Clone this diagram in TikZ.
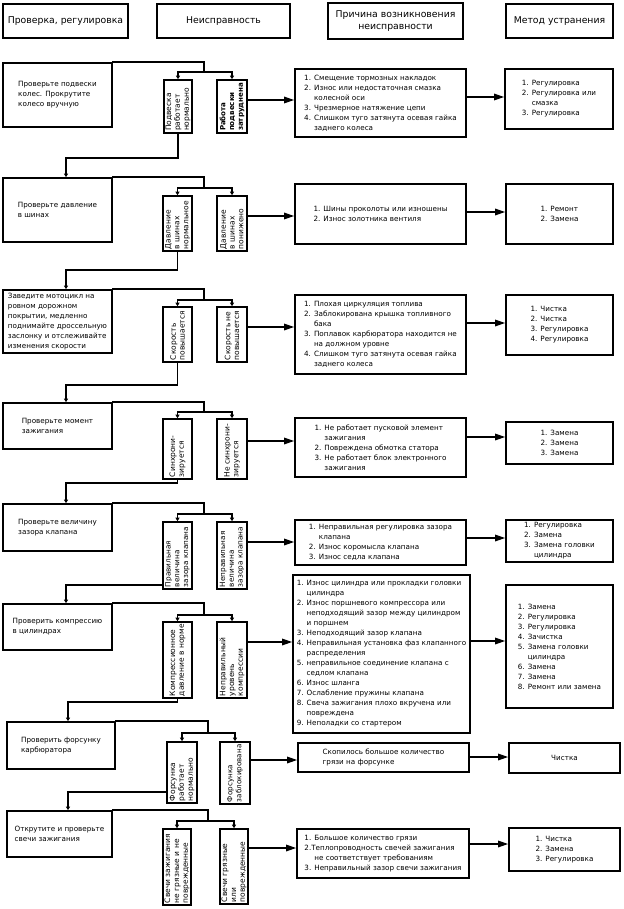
\documentclass[tikz,border=0pt]{standalone}
\usepackage{fontspec}
\setmainfont{DejaVu Sans}
\usepackage{graphicx}
\usetikzlibrary{arrows.meta}
\newcommand{\hg}{\phantom{0. }}
\newcommand{\sfs}[1]{\fontsize{#1}{8.8}\selectfont}
\newcommand{\bx}[7]{\node[#1, minimum width={#4-#2}, minimum height={#5-#3}] (#6) at ({(#2+#4)/2},{(#3+#5)/2}) {#7};}
\newcommand{\sbx}[6]{\pgfmathsetlengthmacro{\tw}{#4-#2-4}\node[sbox, minimum width={#3-#1}, minimum height={#4-#2}] (#5) at ({(#1+#3)/2},{(#2+#4)/2}) {\rotatebox{90}{\parbox{\tw}{#6}}};}
\tikzset{
 box/.style={draw, line width=1.7pt, align=left, inner sep=1pt, font=\fontsize{7.2}{10}\selectfont},
 hdr/.style={draw, line width=1.7pt, align=center, inner sep=1pt, font=\fontsize{9.3}{12.5}\selectfont},
 sbox/.style={draw, line width=1.6pt, inner sep=0pt, font=\fontsize{7.5}{8.8}\selectfont},
 conn/.style={line width=1.5pt, line cap=rect},
 arr/.style={line width=1.5pt, -{Triangle[length=10pt,width=6.5pt]}},
 sarr/.style={line width=1.5pt, -{Triangle[length=3.5pt,width=4pt]}},
}
\begin{document}
\begin{tikzpicture}[x=1pt,y=-1pt]
\useasboundingbox (0,0) rectangle (623,909);
% headers
\bx{hdr}{3}{4}{128}{38}{H1}{Проверка, регулировка}
\bx{hdr}{157}{4}{290}{38}{H2}{Неисправность}
\bx{hdr}{328}{3}{463}{39}{H3}{Причина возникновения\\неисправности}
\bx{hdr}{506}{4}{613}{38}{H4}{Метод устранения}
% row 1
\bx{box}{3}{63}{112}{127}{L1}{Проверьте подвески\\колес. Прокрутите\\колесо вручную}
\sbx{164}{80}{192}{133}{A1}{\mbox{Подвеска}\\\mbox{работает}\\\mbox{нормально}}
\sbx{217}{80}{247}{133}{B1}{\sfs{7.1}\bfseries\mbox{Работа}\\\mbox{подвески}\\\mbox{затруднена}}
\bx{box}{295}{69}{466}{137}{C1}{1. Смещение тормозных накладок\\2. Износ или недостаточная смазка\\\hg колесной оси\\3. Чрезмерное натяжение цепи\\4. Слишком туго затянута осевая гайка\\\hg заднего колеса}
\bx{box}{505}{69}{613}{129}{M1}{1. Регулировка\\2. Регулировка или\\\hg смазка\\3. Регулировка}
% row 2
\bx{box}{3}{178}{112}{242}{L2}{Проверьте давление\\в шинах}
\sbx{163}{196}{192}{251}{A2}{\mbox{Давление}\\\mbox{в шинах}\\\mbox{нормальное}}
\sbx{217}{196}{247}{251}{B2}{\mbox{Давление}\\\mbox{в шинах}\\\mbox{понижено}}
\bx{box}{295}{184}{466}{244}{C2}{1. Шины проколоты или изношены\\2. Износ золотника вентиля}
\bx{box}{506}{184}{613}{244}{M2}{1. Ремонт\\2. Замена}
% row 3
\bx{box}{3}{290}{112}{353}{L3}{Заведите мотоцикл на\\ровном дорожном\\покрытии, медленно\\поднимайте дроссельную\\заслонку и отслеживайте\\изменения скорости}
\sbx{163}{307}{192}{362}{A3}{\mbox{Скорость}\\\mbox{повышается}}
\sbx{217}{307}{247}{362}{B3}{\mbox{Скорость не}\\\mbox{повышается}}
\bx{box}{295}{295}{466}{374}{C3}{1. Плохая циркуляция топлива\\2. Заблокирована крышка топливного\\\hg бака\\3. Поплавок карбюратора находится не\\\hg на должном уровне\\4. Слишком туго затянута осевая гайка\\\hg заднего колеса}
\bx{box}{506}{295}{613}{355}{M3}{1. Чистка\\2. Чистка\\3. Регулировка\\4. Регулировка}
% row 4
\bx{box}{3}{403}{112}{449}{L4}{Проверьте момент\\зажигания}
\sbx{163}{419}{192}{479}{A4}{\mbox{Синхрони-}\\\mbox{зируется}}
\sbx{217}{419}{247}{479}{B4}{\mbox{Не синхрони-}\\\mbox{зируется}}
\bx{box}{295}{418}{466}{477}{C4}{1. Не работает пусковой элемент\\\hg зажигания\\2. Повреждена обмотка статора\\3. Не работает блок электронного\\\hg зажигания}
\bx{box}{506}{422}{613}{464}{M4}{1. Замена\\2. Замена\\3. Замена}
% row 5
\bx{box}{3}{504}{112}{551}{L5}{Проверьте величину\\зазора клапана}
\sbx{163}{522}{192}{589}{A5}{\sfs{7.3}\mbox{Правильная}\\\mbox{величина}\\\mbox{зазора клапана}}
\sbx{217}{522}{247}{589}{B5}{\sfs{7.3}\mbox{Неправильная}\\\mbox{величина}\\\mbox{зазора клапана}}
\bx{box}{295}{520}{466}{565}{C5}{1. Неправильная регулировка зазора\\\hg клапана\\2. Износ коромысла клапана\\3. Износ седла клапана}
\bx{box}{506}{520}{613}{562}{M5}{1. Регулировка\\2. Замена\\3. Замена головки\\\hg цилиндра}
% row 6
\bx{box}{3}{604}{112}{650}{L6}{Проверить компрессию\\в цилиндрах}
\sbx{163}{622}{192}{698}{A6}{\mbox{Компрессионное}\\\mbox{давление в норме}}
\sbx{217}{622}{247}{698}{B6}{\mbox{Неправильный}\\\mbox{уровень}\\\mbox{компрессии}}
\bx{box}{293}{575}{470}{733}{C6}{1. Износ цилиндра или прокладки головки\\\hg цилиндра\\2. Износ поршневого компрессора или\\\hg неподходящий зазор между цилиндром\\\hg и поршнем\\3. Неподходящий зазор клапана\\4. Неправильная установка фаз клапанного\\\hg распределения\\5. неправильное соединение клапана с\\\hg седлом клапана\\6. Износ шланга\\7. Ослабление пружины клапана\\8. Свеча зажигания плохо вкручена или\\\hg повреждена\\9. Неполадки со стартером}
\bx{box}{506}{585}{613}{708}{M6}{1. Замена\\2. Регулировка\\3. Регулировка\\4. Зачистка\\5. Замена головки\\\hg цилиндра\\6. Замена\\7. Замена\\8. Ремонт или замена}
% row 7
\bx{box}{7}{722}{115}{769}{L7}{Проверить форсунку\\карбюратора}
\sbx{167}{742}{197}{803}{A7}{\mbox{Форсунка}\\\mbox{работает}\\\mbox{нормально}}
\sbx{220}{742}{250}{804}{B7}{\sfs{7.2}\mbox{Форсунка}\\\mbox{заблокирована}}
\bx{box}{298}{743}{469}{772}{C7}{Скопилось большое количество\\грязи на форсунке}
\bx{box}{509}{743}{620}{773}{M7}{Чистка}
% row 8
\bx{box}{7}{811}{112}{857}{L8}{Открутите и проверьте\\свечи зажигания}
\sbx{163}{829}{191}{905}{A8}{\mbox{Свечи зажигания}\\\mbox{не грязные и не}\\\mbox{поврежденные}}
\sbx{220}{829}{248}{904}{B8}{\mbox{Свечи грязные}\\\mbox{или}\\\mbox{поврежденные}}
\bx{box}{297}{829}{469}{878}{C8}{1. Большое количество грязи\\2.Теплопроводность свечей зажигания\\\hg не соответствует требованиям\\3. Неправильный зазор свечи зажигания}
\bx{box}{509}{828}{620}{871}{M8}{1. Чистка\\2. Замена\\3. Регулировка}
% junctions and levels
\coordinate (d1) at (204,72);  \coordinate (d2) at (204,188);
\coordinate (d3) at (204,300); \coordinate (d4) at (204,412);
\coordinate (d5) at (204,514); \coordinate (d6) at (204,615);
\coordinate (d7) at (208,733); \coordinate (d8) at (208,821);
\coordinate (yb1) at (0,100); \coordinate (yc1) at (0,97);
\coordinate (yb2) at (0,216); \coordinate (yc2) at (0,212);
\coordinate (yb3) at (0,327); \coordinate (yc3) at (0,323);
\coordinate (yb4) at (0,441); \coordinate (yc4) at (0,437);
\coordinate (yb5) at (0,542); \coordinate (yc5) at (0,538);
\coordinate (yb6) at (0,642); \coordinate (yc6) at (0,641);
\coordinate (yb7) at (0,760); \coordinate (yc7) at (0,757);
\coordinate (yb8) at (0,848); \coordinate (yc8) at (0,844);
\coordinate (k1) at (66,158); \coordinate (k2) at (66,270);
\coordinate (k3) at (66,385); \coordinate (k4) at (66,483);
\coordinate (k5) at (66,585); \coordinate (k6) at (68,702);
\coordinate (k7) at (68,792);
\foreach \i in {1,...,8}{
  \draw[conn] (L\i.north east) -| (d\i);
  \draw[conn] (A\i.north |- d\i) -- (B\i.north |- d\i);
  \draw[sarr] (A\i.north |- d\i) -- (A\i.north);
  \draw[sarr] (B\i.north |- d\i) -- (B\i.north);
  \draw[arr] (B\i.east |- yb\i) -- (C\i.west |- yb\i);
  \draw[arr] (C\i.east |- yc\i) -- (M\i.west |- yc\i);
}
\draw[sarr] (A1.south) |- (k1) -- (k1 |- L2.north);
\draw[sarr] (A2.south) |- (k2) -- (k2 |- L3.north);
\draw[sarr] (A3.south) |- (k3) -- (k3 |- L4.north);
\draw[sarr] (A4.south) |- (k4) -- (k4 |- L5.north);
\draw[sarr] (A5.west |- k5) -- (k5) -- (k5 |- L6.north);
\draw[sarr] (A6.south) |- (k6) -- (k6 |- L7.north);
\draw[sarr] (A7.west |- k7) -- (k7) -- (k7 |- L8.north);
\end{tikzpicture}
\end{document}
